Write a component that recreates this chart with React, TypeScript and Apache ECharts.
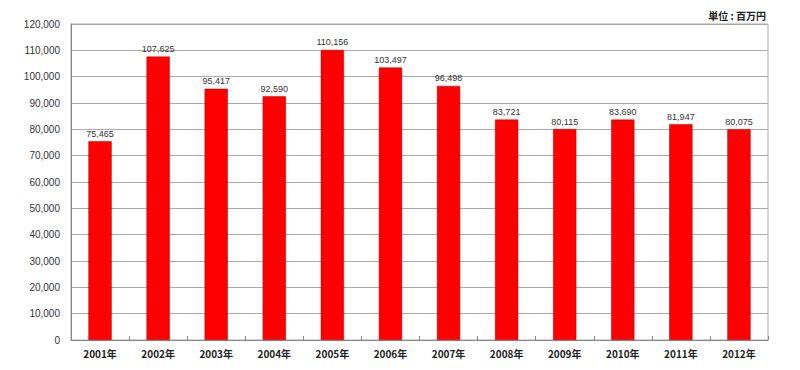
import React, { useEffect, useRef } from "react";
import * as echarts from "echarts";

const categories = ["2001年", "2002年", "2003年", "2004年", "2005年", "2006年", "2007年", "2008年", "2009年", "2010年", "2011年", "2012年"];
const values = [75465, 107625, 95417, 92590, 110156, 103497, 96498, 83721, 80115, 83690, 81947, 80075];
const unitLabel = "単位 : 百万円";

export default function App() {
  const ref = useRef<HTMLDivElement>(null);
  useEffect(() => {
    if (!ref.current) return;
    const chart = echarts.init(ref.current, null, { renderer: "svg" });
    chart.setOption({
      animation: false,
      backgroundColor: "#ffffff",
      title: {
        text: unitLabel,
        right: 26,
        top: 1,
        padding: 0,
        textStyle: { fontSize: 10, lineHeight: 12, fontWeight: "bold", color: "#222", fontFamily: "Noto Sans CJK JP" },
      },
      grid: { left: 63, right: 24, top: 16, bottom: 22, show: true, borderColor: "#aaa", borderWidth: 1 },
      xAxis: {
        type: "category",
        data: categories,
        axisLine: { lineStyle: { color: "#888" } },
        axisTick: { show: true, inside: true, length: 4, lineStyle: { color: "#888" } },
        axisLabel: { fontSize: 10, fontWeight: "bold", color: "#222", fontFamily: "Noto Sans CJK JP", margin: 8 },
      },
      yAxis: {
        type: "value",
        min: 0,
        max: 120000,
        interval: 10000,
        axisLine: { show: true, lineStyle: { color: "#888" } },
        axisTick: { show: false },
        splitLine: { lineStyle: { color: "#aaa" } },
        axisLabel: {
          fontSize: 10,
          color: "#333",
          fontFamily: "Liberation Sans",
          margin: 11,
          formatter: (v: number) => v.toLocaleString("en-US"),
        },
      },
      series: [
        {
          type: "bar",
          data: values,
          barWidth: "40%",
          itemStyle: { color: "#ff0000", borderColor: "#b00000", borderWidth: 0.5 },
          label: {
            show: true,
            position: "top",
            distance: 3,
            fontSize: 9,
            color: "#333",
            fontFamily: "Liberation Sans",
            formatter: (p: any) => Number(p.value).toLocaleString("en-US"),
          },
        },
      ],
    });
    return () => chart.dispose();
  }, []);
  return <div ref={ref} style={{ width: 784, height: 354 }} />;
}
